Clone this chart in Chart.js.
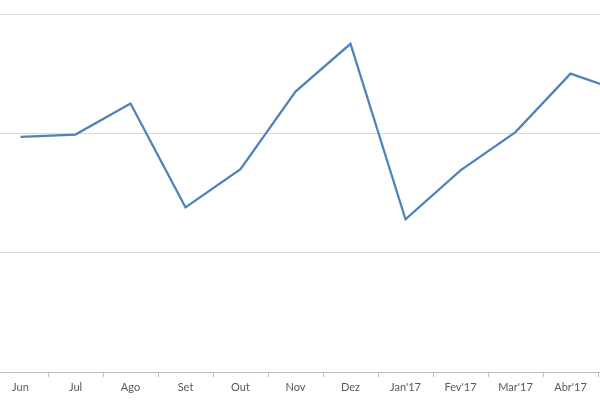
<!DOCTYPE html>
<html>
<head>
<meta charset="utf-8">
<script src="https://cdn.jsdelivr.net/npm/chart.js@4/dist/chart.umd.min.js"></script>
<style>
  html, body { margin: 0; padding: 0; background: #fff; }
  #wrap { position: relative; width: 600px; height: 400px; overflow: hidden; background: #fff; }
  #chart { position: absolute; left: -7px; top: 0; }
</style>
</head>
<body>
<div id="wrap">
  <canvas id="chart" width="660" height="400"></canvas>
</div>
<script>
// months shown along the bottom (last one is cut off at the right edge)
const months = ["Jun", "Jul", "Ago", "Set", "Out", "Nov", "Dez", "Jan'17", "Fev'17", "Mar'17", "Abr'17", "Mai'17"];
// values, gridlines at 1, 2, 3
const values = [1.97, 1.99, 2.25, 1.38, 1.70, 2.35, 2.75, 1.28, 1.69, 2.01, 2.50, 2.34];
const yMin = 0;
const yMax = 3;
const yStep = 1;

const ctx = document.getElementById("chart").getContext("2d");
new Chart(ctx, {
  type: "line",
  data: {
    labels: months,
    datasets: [{
      data: values,
      borderColor: "#4f81bd",
      borderWidth: 2.25,
      tension: 0,
      pointRadius: 0,
      fill: false
    }]
  },
  options: {
    responsive: false,
    animation: false,
    layout: { padding: { top: 14, left: 0, right: 0, bottom: 0 } },
    plugins: {
      legend: { display: false },
      tooltip: { enabled: false }
    },
    scales: {
      x: {
        offset: true,
        grid: {
          offset: true,
          drawOnChartArea: false,
          drawTicks: true,
          tickLength: 5,
          color: "#bfbfbf"
        },
        border: { display: true, color: "#bfbfbf", width: 1 },
        ticks: {
          color: "#595959",
          font: { family: "Lato", size: 11 },
          padding: 4,
          maxRotation: 0,
          autoSkip: false
        },
        afterFit: scale => { scale.height = 28; }
      },
      y: {
        min: yMin,
        max: yMax,
        ticks: { display: false, stepSize: yStep },
        grid: { color: "#d9d9d9", drawTicks: false, lineWidth: 1 },
        border: { display: false },
        afterFit: scale => { scale.width = 0; }
      }
    }
  }
});
</script>
</body>
</html>
